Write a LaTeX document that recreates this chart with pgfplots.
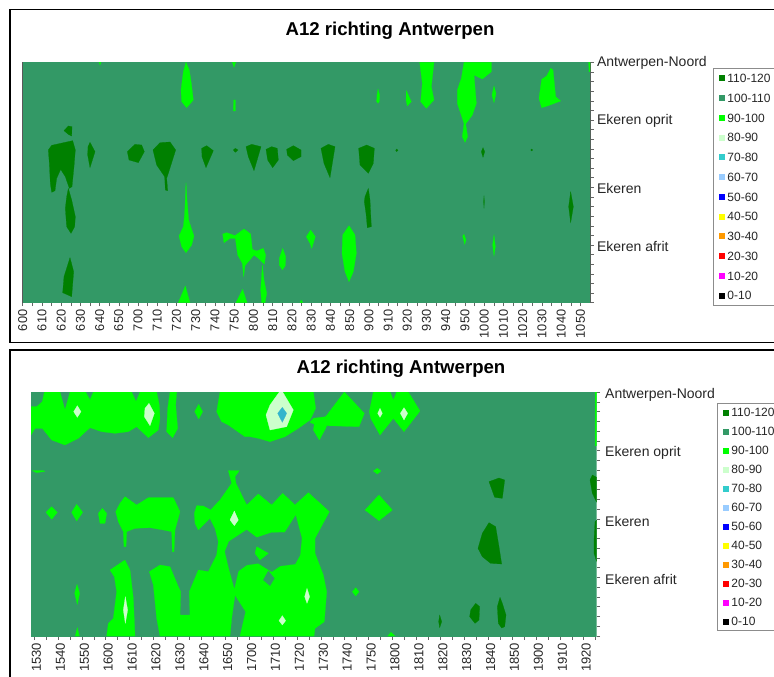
\documentclass[border=0pt]{standalone}
\usepackage{fontspec}
\setmainfont{Liberation Sans}
\usepackage{pgfplots}
\pgfplotsset{compat=1.18}
\definecolor{cA}{HTML}{008000}
\definecolor{cB}{HTML}{339966}
\definecolor{cC}{HTML}{00FF00}
\definecolor{cD}{HTML}{CCFFCC}
\definecolor{cE}{HTML}{33CCCC}
\definecolor{cF}{HTML}{99CCFF}
\definecolor{cG}{HTML}{0000FF}
\definecolor{cH}{HTML}{FFFF00}
\definecolor{cI}{HTML}{FF9900}
\definecolor{cJ}{HTML}{FF0000}
\definecolor{cK}{HTML}{FF00FF}
\definecolor{cL}{HTML}{000000}
\definecolor{cT}{HTML}{33B5CC}
\newcommand\poly[2]{\addplot[fill=#1,draw=#1,line width=0.2pt,forget plot] coordinates {#2} --cycle;}
\newcommand\legendblock{%
\addlegendimage{fill=cA}\addlegendentry{110-120}
\addlegendimage{fill=cB}\addlegendentry{100-110}
\addlegendimage{fill=cC}\addlegendentry{90-100}
\addlegendimage{fill=cD}\addlegendentry{80-90}
\addlegendimage{fill=cE}\addlegendentry{70-80}
\addlegendimage{fill=cF}\addlegendentry{60-70}
\addlegendimage{fill=cG}\addlegendentry{50-60}
\addlegendimage{fill=cH}\addlegendentry{40-50}
\addlegendimage{fill=cI}\addlegendentry{30-40}
\addlegendimage{fill=cJ}\addlegendentry{20-30}
\addlegendimage{fill=cK}\addlegendentry{10-20}
\addlegendimage{fill=cL}\addlegendentry{0-10}}
\begin{document}
\begin{tikzpicture}[x=1pt,y=1pt]
\useasboundingbox (0,0) rectangle (774pt,-677pt);
\clip (0,0) rectangle (774pt,-677pt);
\fill[white] (0,0) rectangle (774pt,-677pt);
\draw[black,line width=1.6pt] (9.7pt,-9.7pt) rectangle (800pt,-342.6pt);
\draw[black,line width=1.6pt] (9.7pt,-349.7pt) rectangle (800pt,-700pt);
% ---------- top chart
\begin{axis}[
  at={(22.67pt,-62.33pt)},anchor=north west,width=567.33pt,height=240.33pt,
  xmin=68,xmax=1770,ymin=187,ymax=908,
  scale only axis, y dir=reverse, axis lines=box,
  tick align=outside, xtick pos=bottom, ytick pos=right,
  xticklabel pos=bottom, yticklabel pos=right,
  major tick length=3.5pt, minor tick length=3.5pt,
  tick style={draw=black!60,line width=0.5pt},
  minor tick style={draw=black!60,line width=0.5pt},
  axis line style={draw=black!65,line width=0.7pt},
  x tick label style={rotate=90,anchor=east,font=\fontsize{12.8}{12.8}\selectfont,text=black!85},
  y tick label style={anchor=west,font=\fontsize{14}{14}\selectfont,text=black!85,yshift=-1pt},
  xtick={68,125.7,...,1770},
  minor xtick={96.85,154.55,...,1770},
  xticklabels={600,610,620,630,640,650,700,710,720,730,740,750,800,810,820,830,840,850,900,910,920,930,940,950,1000,1010,1020,1030,1040,1050},
  ytick={187,360,562,735},
  minor ytick={215.84,244.68,...,908},
  yticklabels={Antwerpen-Noord,Ekeren oprit,Ekeren,Ekeren afrit},
  title={A12 richting Antwerpen},
  title style={font=\fontsize{18.6}{18.6}\selectfont\bfseries,anchor=center,at={(0.6475,1.143)},yshift=-9pt},
  legend image code/.code={\fill[#1,draw=none] (-3pt,-3pt) rectangle (3pt,3pt);},
  legend cell align=left,
  legend style={at={(1.2174,0.9777)},anchor=north west,draw=black!45,line width=0.8pt,
    font=\fontsize{12}{12}\selectfont,text=black!85,
    nodes={inner sep=0pt,text height=8.5pt,text depth=0pt},
    row sep=11.25pt,column sep=2pt,inner xsep=5.7pt,inner ysep=6pt},
]
\poly{cB}{(68,187) (1770,187) (1770,908) (68,908)}
% 90-100
\poly{cC}{(558,187) (568,210) (574,250) (580,300) (560,323) (545,305) (543,270) (550,215)}
\poly{cC}{(697,187) (707,187) (702,202)}
\poly{cC}{(297,187) (303,187) (300,195)}
\poly{cC}{(700,333) (701,300) (706,300) (706,333)}
\poly{cC}{(1134,267) (1139,285) (1138,305) (1134,310) (1130,305) (1131,285)}
\poly{cC}{(558,548) (561,600) (566,660) (574,685) (582,708) (575,735) (558,758) (545,740) (537,708) (550,680) (554,640)}
\poly{cC}{(668,702) (680,698) (705,707) (732,687) (752,702) (757,748) (770,753) (790,745) (797,765) (793,793) (775,775) (762,765) (735,797) (731,830) (727,790) (713,765) (706,715) (690,715) (672,728)}
\poly{cC}{(787,795) (792,840) (800,880) (795,908) (785,908) (782,870)}
\poly{cC}{(848,745) (857,770) (856,797) (847,810) (838,795) (838,775)}
\poly{cC}{(932,690) (946,710) (935,745) (930,730) (919,710)}
\poly{cC}{(1047,677) (1065,705) (1069,760) (1060,815) (1047,845) (1035,815) (1026,760) (1028,705)}
\poly{cC}{(556,858) (570,908) (535,908)}
\poly{cC}{(728,868) (741,908) (708,908)}
\poly{cC}{(904,900) (908,908) (900,908)}
\poly{cC}{(1219,272) (1234,305) (1222,318) (1218,300)}
\poly{cC}{(1259,187) (1302,187) (1294,260) (1302,300) (1279,325) (1262,305) (1267,250)}
\poly{cC}{(1392,187) (1474,187) (1474,215) (1447,237) (1422,225) (1429,310) (1417,345) (1397,372) (1403,410) (1395,427) (1387,410) (1392,370) (1372,310) (1372,270) (1384,235)}
\poly{cC}{(1482,258) (1488,280) (1482,308) (1476,285)}
\poly{cC}{(1652,205) (1659,210) (1667,290) (1682,303) (1642,318) (1625,323) (1617,295) (1625,238) (1640,228)}
\poly{cC}{(1392,703) (1398,720) (1394,733) (1388,708)}
\poly{cC}{(1482,705) (1486,740) (1482,768) (1478,735)}
\poly{cC}{(1766,187) (1770,187) (1770,215) (1767,215)}
% 110-120
\poly{cA}{(205,378) (216,380) (215,408) (205,403) (192,392)}
\poly{cA}{(145,450) (155,436) (218,422) (226,450) (222,500) (216,560) (208,565) (196,530) (182,508) (170,535) (165,572) (155,577) (151,550) (148,490)}
\poly{cA}{(205,565) (215,600) (226,650) (224,680) (213,700) (200,680) (196,625) (200,590)}
\poly{cA}{(270,427) (285,455) (270,503) (263,465) (264,440)}
\poly{cA}{(382,455) (405,433) (425,435) (433,455) (415,488) (387,480)}
\poly{cA}{(459,450) (480,428) (510,426) (527,450) (505,520) (500,535) (503,572) (496,570) (494,530) (470,495)}
\poly{cA}{(605,445) (620,437) (640,452) (618,503) (606,470)}
\poly{cA}{(700,450) (706,445) (714,450) (706,457)}
\poly{cA}{(738,440) (755,433) (783,440) (762,512) (745,470)}
\poly{cA}{(798,448) (815,440) (832,445) (835,480) (818,503) (803,480)}
\poly{cA}{(860,448) (880,437) (903,450) (903,470) (880,482) (862,465)}
\poly{cA}{(963,445) (985,433) (1005,440) (990,533) (972,490)}
\poly{cA}{(1076,445) (1100,435) (1123,445) (1120,490) (1105,520) (1080,495)}
\poly{cA}{(1095,590) (1105,565) (1110,600) (1114,680) (1102,683) (1098,640) (1093,605)}
\poly{cA}{(1190,447) (1194,451) (1190,455) (1187,451)}
\poly{cA}{(210,773) (221,815) (215,890) (188,878) (192,830)}
\poly{cA}{(1449,443) (1454,455) (1449,472) (1444,455)}
\poly{cA}{(1595,447) (1598,450) (1595,453) (1592,450)}
\poly{cA}{(1452,587) (1453,605) (1452,625) (1451,605)}
\poly{cA}{(1712,575) (1720,620) (1712,668) (1706,620)}
\legendblock
\end{axis}
% ---------- bottom chart
\begin{axis}[
  at={(31pt,-392pt)},anchor=north west,width=565.67pt,height=244pt,
  xmin=93,xmax=1790,ymin=156,ymax=888,
  scale only axis, y dir=reverse, axis lines=box,
  tick align=outside, xtick pos=bottom, ytick pos=right,
  xticklabel pos=bottom, yticklabel pos=right,
  major tick length=3.5pt, minor tick length=3.5pt,
  tick style={draw=black!60,line width=0.5pt},
  minor tick style={draw=black!60,line width=0.5pt},
  axis line style={draw=none},
  x tick label style={rotate=90,anchor=east,font=\fontsize{13}{13}\selectfont,text=black!85,yshift=-2.5pt},
  y tick label style={anchor=west,font=\fontsize{14}{14}\selectfont,text=black!85,xshift=1.5pt,yshift=-2.5pt},
  xtick={102,173.7,...,1770},
  minor xtick={137.85,209.55,...,1790},
  xticklabels={1530,1540,1550,1600,1610,1620,1630,1640,1650,1700,1710,1720,1730,1740,1750,1800,1810,1820,1830,1840,1850,1900,1910,1920},
  ytick={156,331.7,536.6,712.3},
  minor ytick={185.28,214.56,...,888},
  yticklabels={Antwerpen-Noord,Ekeren oprit,Ekeren,Ekeren afrit},
  title={A12 richting Antwerpen},
  title style={font=\fontsize{18.6}{18.6}\selectfont\bfseries,anchor=center,at={(0.654,1.1066)},yshift=-9pt},
  legend image code/.code={\fill[#1,draw=none] (-3pt,-3pt) rectangle (3pt,3pt);},
  legend cell align=left,
  legend style={at={(1.2133,0.955)},anchor=north west,draw=black!45,line width=0.8pt,
    font=\fontsize{12}{12}\selectfont,text=black!85,
    nodes={inner sep=0pt,text height=8.5pt,text depth=0pt},
    row sep=10.5pt,column sep=2pt,inner xsep=5.7pt,inner ysep=5pt},
]
\poly{cB}{(93,156) (1790,156) (1790,888) (93,888)}
% 90-100
\poly{cC}{(133,156) (180,156) (195,210) (210,156) (257,156) (270,180) (280,156) (395,156) (408,185) (420,156) (470,156) (478,195) (480,235) (475,270) (445,293) (410,260) (385,275) (345,280) (305,275) (270,263) (235,295) (195,315) (155,300) (127,265) (105,265) (93,285) (93,200) (110,200) (127,185)}
\poly{cC}{(510,156) (530,156) (527,195) (533,265) (518,293) (500,275) (503,205)}
\poly{cC}{(596,193) (608,215) (596,237) (584,215)}
\poly{cC}{(97,392) (130,392) (135,394) (110,398)}
\poly{cC}{(660,156) (940,156) (947,205) (930,240) (895,265) (855,290) (810,305) (775,295) (750,290) (735,290) (685,255) (665,245) (650,215)}
\poly{cC}{(1033,156) (1093,220) (1077,260) (980,257) (977,265) (958,300) (940,270) (943,253) (930,247) (940,235) (977,230)}
\poly{cC}{(1120,156) (1170,156) (1180,180) (1190,156) (1225,156) (1260,213) (1212,275) (1180,235) (1140,285) (1112,235) (1108,215)}
\poly{cC}{(1120,393) (1132,385) (1143,393) (1132,402)}
\poly{cC}{(1786,156) (1790,156) (1790,315) (1786,315)}
\poly{cC}{(155,500) (172,517) (155,538) (138,517)}
\poly{cC}{(230,493) (248,517) (230,543) (215,517)}
\poly{cC}{(307,505) (320,520) (315,550) (300,550) (295,520)}
\poly{cC}{(375,470) (410,495) (445,473) (520,473) (540,515) (525,570) (522,635) (517,635) (515,575) (490,570) (450,563) (405,565) (380,575) (378,620) (372,620) (370,575) (355,545) (347,515) (360,490)}
\poly{cC}{(583,520) (590,497) (610,498) (632,510) (660,480) (695,430) (685,392) (718,392) (705,410) (708,430) (740,495) (775,462) (815,495) (848,460) (885,495) (925,458) (988,515) (945,595) (945,640) (970,705) (980,755) (973,845) (945,865) (942,888) (720,888) (737,815) (705,765) (695,835) (690,888) (480,888) (470,835) (460,735) (448,695) (480,675) (510,680) (535,740) (542,755) (540,825) (570,825) (568,755) (595,690) (625,695) (650,645) (655,605) (645,565) (630,535) (595,570) (585,550)}
\poly{cB}{(675,635) (687,605) (740,570) (770,593) (815,578) (855,577) (887,527) (905,595) (900,645) (885,672) (840,678) (815,695) (775,670) (740,675) (715,693) (703,743) (687,685)}
\poly{cC}{(770,620) (805,640) (780,660) (765,640)}
\poly{cB}{(805,693) (823,715) (810,737) (790,720)}
\poly{cC}{(1137,465) (1177,510) (1137,542) (1095,510)}
\poly{cC}{(1067,743) (1077,755) (1067,768) (1057,755)}
\poly{cC}{(1173,877) (1185,888) (1163,888)}
\poly{cC}{(375,660) (390,690) (400,775) (405,888) (320,888) (325,850) (340,835) (350,755) (343,710) (330,690)}
\poly{cC}{(231,733) (239,760) (232,793) (224,760)}
\poly{cC}{(232,863) (238,888) (226,888)}
% 80-90
\poly{cD}{(232,197) (243,215) (232,232) (221,215)}
\poly{cD}{(447,190) (463,220) (450,257) (433,230) (435,205)}
\poly{cD}{(838,156) (848,156) (880,210) (860,260) (810,270) (798,225) (810,195)}
\poly{cD}{(1140,205) (1147,220) (1140,232) (1133,220)}
\poly{cD}{(1212,203) (1223,220) (1212,240) (1201,220)}
\poly{cD}{(703,513) (715,540) (703,557) (690,540)}
\poly{cD}{(921,745) (929,770) (921,790) (914,770)}
\poly{cD}{(847,827) (857,842) (847,855) (837,842)}
\poly{cD}{(376,770) (383,810) (376,850) (370,810)}
% 70-80
\poly{cT}{(847,202) (860,220) (847,247) (833,220)}
% 110-120
\poly{cA}{(1467,425) (1497,414) (1514,420) (1507,475) (1484,472)}
\poly{cA}{(1770,420) (1777,405) (1790,412) (1790,487) (1777,460)}
\poly{cA}{(1467,548) (1487,560) (1497,620) (1505,672) (1472,670) (1447,650) (1434,625) (1447,580)}
\poly{cA}{(1785,545) (1790,540) (1790,665) (1782,640) (1782,600)}
\poly{cA}{(1427,790) (1439,800) (1437,840) (1425,850) (1409,830) (1412,810)}
\poly{cA}{(1500,772) (1507,790) (1518,825) (1514,860) (1505,864) (1495,850) (1492,800)}
\poly{cA}{(1319,825) (1325,845) (1319,863) (1316,845)}
\legendblock
\end{axis}
\end{tikzpicture}
\end{document}
